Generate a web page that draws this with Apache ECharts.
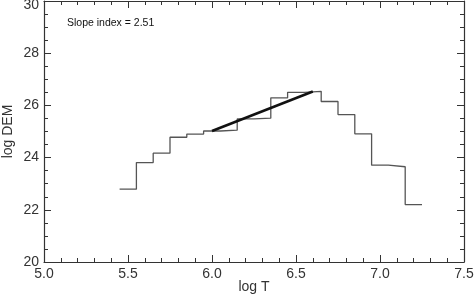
<!DOCTYPE html>
<html><head><meta charset="utf-8">
<script src="https://cdn.jsdelivr.net/npm/echarts@6/dist/echarts.min.js"></script>
<style>html,body{margin:0;padding:0;background:#fff}#c{width:474px;height:304px}</style>
</head><body><div id="c"></div>
<script>
var binCenters = [5.5,5.6,5.7,5.8,5.9,6.0,6.1,6.2,6.3,6.4,6.5,6.6,6.7,6.8,6.9,7.0,7.1,7.2];
var logDEM = [22.79,23.81,24.17,24.78,24.90,25.02,25.05,25.48,25.51,26.29,26.50,26.54,26.15,25.65,24.91,23.71,23.65,22.20];
var binWidth = 0.1;
var fitT = [6.0, 6.6];
var fitDEM = [25.02, 26.53];
var slopeLabel = 'Slope index = 2.51';

var stepData = [];
binCenters.forEach(function(c,i){
  stepData.push([c - binWidth/2, logDEM[i]]);
  stepData.push([c + binWidth/2, logDEM[i]]);
});
var fitData = fitT.map(function(t,i){return [t, fitDEM[i]];});

var font = 'Liberation Sans, Arial, sans-serif';
var axCol = '#333';
var txtCol = '#333';
function xAx(pos, show){
  return {type:'value', position:pos, min:5, max:7.5, interval:0.5,
    axisLine:{show:true, onZero:false, lineStyle:{color:axCol, width:1.2}},
    axisTick:{show:true, inside:true, length:7, lineStyle:{color:axCol}},
    minorTick:{show:true, splitNumber:5, length:4, lineStyle:{color:axCol}},
    splitLine:{show:false},
    axisLabel:{show:show, margin:5, color:txtCol, fontSize:14, fontFamily:font,
      formatter:function(v){return v.toFixed(1);}},
    name: show ? 'log T' : '', nameLocation:'middle', nameGap:18, nameMoveOverlap:false,
    nameTextStyle:{color:txtCol, fontSize:14, fontFamily:font}};
}
function yAx(pos, show){
  return {type:'value', position:pos, min:20, max:30, interval:2,
    axisLine:{show:true, onZero:false, lineStyle:{color:axCol, width:1.2}},
    axisTick:{show:true, inside:true, length:7, lineStyle:{color:axCol}},
    minorTick:{show:true, splitNumber:4, length:4, lineStyle:{color:axCol}},
    splitLine:{show:false},
    axisLabel:{show:show, margin:5, color:txtCol, fontSize:14, fontFamily:font,
      formatter:function(v){return v === 30 ? '{top|' + v + '}' : String(v);},
      rich:{top:{fontSize:14, fontFamily:font, color:txtCol, padding:[9,0,0,0]}}},
    name: show ? 'log DEM' : '', nameLocation:'middle', nameGap:29, nameRotate:90, nameMoveOverlap:false,
    nameTextStyle:{color:txtCol, fontSize:14, fontFamily:font}};
}
var chart = echarts.init(document.getElementById('c'));
chart.setOption({
  animation:false,
  grid:{left:44, right:10, top:1, bottom:42, containLabel:false, outerBoundsMode:'none'},
  xAxis:[xAx('bottom', true), xAx('top', false)],
  yAxis:[yAx('left', true), yAx('right', false)],
  graphic:[{type:'text', x:67, y:23, style:{text:slopeLabel, fontSize:10.5, fontFamily:font, fill:'#111', verticalAlign:'middle'}}],
  series:[
    {type:'line', data:stepData, xAxisIndex:0, yAxisIndex:0, symbol:'none',
      lineStyle:{color:'#555', width:1.3}},
    {type:'line', data:fitData, xAxisIndex:0, yAxisIndex:0, symbol:'none',
      lineStyle:{color:'#111', width:2.6}}
  ]
});
</script></body></html>
